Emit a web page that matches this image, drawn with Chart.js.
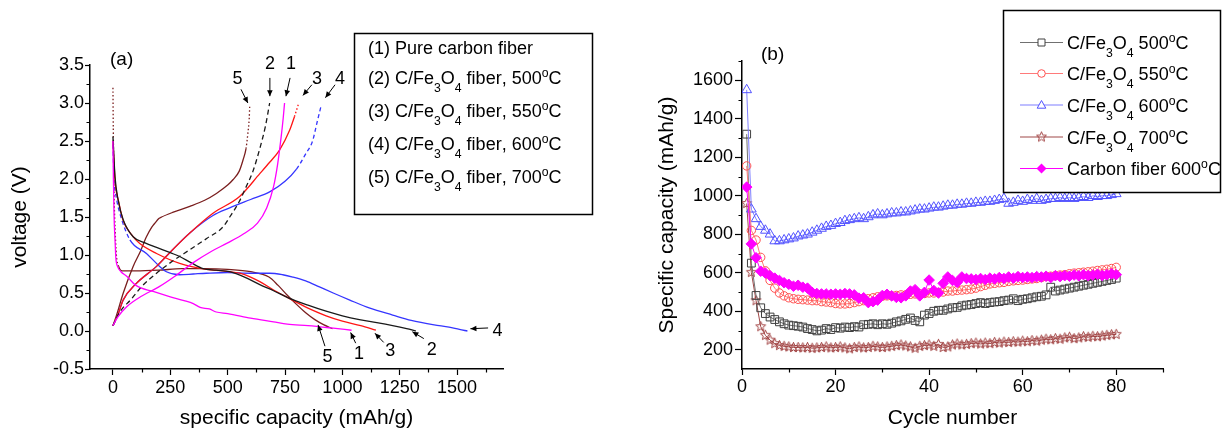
<!DOCTYPE html>
<html>
<head>
<meta charset="utf-8">
<script src="https://cdn.jsdelivr.net/npm/chart.js@4.4.1/dist/chart.umd.min.js"></script>
<style>
  html, body { margin: 0; padding: 0; background: #fff; }
  #wrap { position: relative; width: 1222px; height: 429px; }
  #chartA { position: absolute; left: 0; top: 0; }
  #chartB { position: absolute; left: 610px; top: 0; }
</style>
</head>
<body>
<div id="wrap">
  <canvas id="chartA" width="610" height="429"></canvas>
  <canvas id="chartB" width="612" height="429"></canvas>
</div>
<script>
const FONT = '"Liberation Sans", Arial, Helvetica, sans-serif';

// ---------- panel (a): voltage profiles, [capacity mAh/g, voltage V] ----------
const cfDischarge = [[0,2.5],[2,2.0],[5,1.5],[9,1.2],[13,0.95],[20,0.85],[35,0.78],[60,0.72],[100,0.6],[175,0.52],[250,0.45],[310,0.4],[350,0.36],[380,0.31],[420,0.29],[450,0.25],[500,0.23],[600,0.17],[700,0.12],[760,0.09],[850,0.07],[950,0.04],[1040,0.01]];
const cfCharge = [[0,0.07],[20,0.18],[60,0.32],[120,0.45],[200,0.58],[270,0.72],[350,0.9],[430,1.05],[500,1.16],[570,1.28],[630,1.42],[670,1.62],[700,1.9],[718,2.2],[733,2.55],[742,2.8],[748,3.0]];

const f500Discharge = [[0,2.56],[9,2.03],[23,1.72],[45,1.46],[88,1.24],[140,1.16],[190,1.1],[250,1.03],[291,0.98],[340,0.9],[393,0.82],[450,0.8],[509,0.78],[581,0.7],[640,0.61],[700,0.53],[762,0.44],[850,0.34],[929,0.26],[1000,0.2],[1074,0.15],[1150,0.11],[1219,0.07],[1280,0.03],[1320,0.0]];
const f500Charge = [[0,0.07],[30,0.25],[80,0.42],[130,0.6],[190,0.76],[260,0.92],[335,1.07],[410,1.22],[480,1.37],[509,1.5],[550,1.7],[581,1.9],[610,2.1],[640,2.4],[665,2.7],[683,3.0]];

const f550Discharge = [[0,2.5],[10,1.95],[25,1.7],[45,1.45],[80,1.27],[117,1.15],[190,1.02],[291,0.89],[407,0.81],[480,0.79],[552,0.76],[600,0.71],[640,0.65],[700,0.54],[762,0.44],[850,0.3],[929,0.2],[1000,0.13],[1080,0.07],[1146,0.01]];
const f550Charge = [[0,0.07],[20,0.2],[45,0.41],[100,0.62],[190,0.85],[260,1.07],[335,1.29],[436,1.55],[552,1.77],[640,2.07],[683,2.22],[726,2.38],[770,2.64],[791,2.82],[810,3.0]];

const f600Discharge = [[0,2.45],[5,2.0],[15,1.75],[30,1.55],[74,1.2],[146,1.02],[200,0.86],[233,0.78],[291,0.74],[350,0.75],[407,0.76],[500,0.77],[600,0.76],[683,0.76],[740,0.74],[784,0.71],[840,0.66],[900,0.58],[960,0.5],[1030,0.41],[1120,0.3],[1219,0.21],[1300,0.14],[1400,0.08],[1465,0.05],[1510,0.02],[1545,0.0]];
const f600Charge = [[0,0.07],[20,0.2],[45,0.41],[100,0.62],[190,0.85],[260,1.07],[335,1.29],[436,1.52],[509,1.62],[600,1.73],[683,1.83],[750,1.97],[800,2.13],[840,2.33],[870,2.5],[890,2.75],[907,2.96]];

const f700Discharge = [[0,3.2],[2,2.5],[5,1.8],[10,1.3],[15,1.0],[25,0.85],[40,0.79],[100,0.79],[200,0.8],[300,0.82],[400,0.82],[500,0.81],[600,0.78],[680,0.71],[720,0.6],[760,0.47],[800,0.35],[840,0.24],[880,0.15],[920,0.08],[957,0.03]];
const f700Charge = [[0,0.07],[15,0.2],[45,0.5],[88,0.85],[120,1.05],[146,1.24],[170,1.37],[183,1.42],[200,1.48],[212,1.5],[260,1.56],[335,1.64],[400,1.72],[451,1.81],[500,1.92],[523,1.99],[550,2.1],[567,2.25],[580,2.4],[588,2.6],[594,2.8],[596,2.95]];

const aTicksX = [0, 250, 500, 750, 1000, 1250, 1500];
const aMinorX = [125, 375, 625, 875, 1125, 1375, 1625];
const aTicksY = [-0.5, 0, 0.5, 1, 1.5, 2, 2.5, 3, 3.5];
const aMinorY = [-0.25, 0.25, 0.75, 1.25, 1.75, 2.25, 2.75, 3.25];

const legendA = [
  '(1) Pure carbon fiber',
  '(2) C/Fe_3O_4 fiber, 500^oC',
  '(3) C/Fe_3O_4 fiber, 550^oC',
  '(4) C/Fe_3O_4 fiber, 600^oC',
  '(5) C/Fe_3O_4 fiber, 700^oC'
];

// curve number tags with arrows (data coordinates)
const tagsA = [
  {t: '5', at: [543, 3.32], from: [558, 3.18], to: [588, 3.0]},
  {t: '2', at: [684, 3.51], from: [684, 3.33], to: [684, 3.09]},
  {t: '1', at: [776, 3.51], from: [772, 3.33], to: [754, 3.09]},
  {t: '3', at: [889, 3.32], from: [867, 3.24], to: [828, 3.1]},
  {t: '4', at: [990, 3.32], from: [968, 3.24], to: [926, 3.07]},
  {t: '5', at: [935, -0.34], from: [924, -0.2], to: [894, 0.08]},
  {t: '1', at: [1072, -0.3], from: [1058, -0.16], to: [1036, -0.02]},
  {t: '3', at: [1209, -0.27], from: [1180, -0.15], to: [1142, -0.03]},
  {t: '2', at: [1389, -0.25], from: [1355, -0.1], to: [1305, -0.01]},
  {t: '4', at: [1676, 0.0], from: [1635, 0.04], to: [1558, 0.03]}
];

// ---------- panel (b): cycling performance ----------
const cycles = Array.from({length: 80}, (_, i) => i + 1);
const cap500 = [1320,650,482,418,388,370,357,345,335,328, 325,322,318,310,305,298,302,310,305,315,
  312,318,315,320,318,330,332,335,330,335, 332,338,345,350,358,365,352,345,380,388,
  400,405,405,412,418,420,428,432,435,440, 445,440,445,448,450,455,458,465,455,462,
  465,470,475,478,485,525,505,510,515,520, 525,530,535,540,545,550,555,560,565,572];
const cap550 = [1155,820,770,680,610,560,520,495,480,470, 465,462,460,458,455,455,450,448,445,440,
  438,438,440,445,450,455,465,470,475,478, 480,480,482,485,485,488,490,490,492,495,
  495,498,500,505,505,508,510,512,515,520, 528,535,542,545,548,550,555,558,560,562,
  565,568,570,575,580,582,585,588,590,595, 598,600,603,605,608,612,615,618,622,628];
const cap600 = [1550,930,880,840,820,800,765,765,770,775, 780,790,795,800,810,820,830,840,845,855,
  860,870,875,880,885,880,890,900,905,900, 905,910,910,915,915,920,925,930,930,935,
  940,940,945,950,950,955,955,960,960,965, 965,970,970,975,980,985,960,965,975,970,
  980,975,985,975,980,985,985,990,985,990, 985,990,995,990,1000,995,1000,1000,1005,1010];
const cap700 = [960,602,455,320,275,250,232,222,218,215, 212,212,210,212,208,210,212,215,210,212,
  215,210,205,212,215,210,212,218,215,212, 215,218,222,225,220,215,208,218,222,225,
  218,228,212,215,225,230,225,228,232,235, 230,235,232,238,235,240,238,242,240,245,
  242,248,245,250,255,252,258,255,262,265, 258,262,268,265,270,268,272,275,278,280];
const capCF = [1045,750,678,608,598,585,572,560,548,540, 530,535,525,520,498,492,490,490,488,490,
  488,492,490,485,468,470,445,450,458,482, 488,480,472,470,480,505,512,480,498,562,
  508,495,545,578,560,550,578,570,568,565, 570,565,572,568,575,570,578,572,580,575,
  578,575,580,578,582,575,585,580,585,582, 588,584,590,585,588,592,586,590,594,590];

const bTicksX = [0, 20, 40, 60, 80];
const bMinorX = [10, 30, 50, 70, 90];
const bTicksY = [200, 400, 600, 800, 1000, 1200, 1400, 1600];
const bMinorY = [300, 500, 700, 900, 1100, 1300, 1500, 1700];

const legendB = ['C/Fe_3O_4 500^oC', 'C/Fe_3O_4 550^oC', 'C/Fe_3O_4 600^oC', 'C/Fe_3O_4 700^oC', 'Carbon fiber 600^oC'];

// ---------- helpers ----------
function drawRich(ctx, str, x, y, size) {
  let cx = x, i = 0;
  ctx.textBaseline = 'alphabetic';
  ctx.textAlign = 'left';
  while (i < str.length) {
    let ch = str[i], mode = 0;
    if ((ch === '_' || ch === '^') && i + 1 < str.length) {
      mode = ch === '_' ? 1 : 2;
      ch = str[i + 1];
      i += 2;
    } else {
      i += 1;
    }
    const fs = mode ? size * 0.68 : size;
    ctx.font = fs + 'px ' + FONT;
    const dy = mode === 1 ? size * 0.45 : mode === 2 ? -size * 0.37 : 0;
    ctx.fillText(ch, cx, y + dy);
    cx += ctx.measureText(ch).width;
  }
}

function arrow(ctx, x1, y1, x2, y2) {
  ctx.beginPath();
  ctx.moveTo(x1, y1);
  ctx.lineTo(x2, y2);
  ctx.stroke();
  const a = Math.atan2(y2 - y1, x2 - x1), L = 6, W = 2.8;
  ctx.beginPath();
  ctx.moveTo(x2, y2);
  ctx.lineTo(x2 - L * Math.cos(a) + W * Math.sin(a), y2 - L * Math.sin(a) - W * Math.cos(a));
  ctx.lineTo(x2 - L * Math.cos(a) - W * Math.sin(a), y2 - L * Math.sin(a) + W * Math.cos(a));
  ctx.closePath();
  ctx.fill();
}

function drawMinor(ctx, chart, minorX, minorY, len) {
  const {x, y} = chart.scales;
  const area = chart.chartArea;
  ctx.strokeStyle = '#000';
  ctx.lineWidth = 1.2;
  ctx.beginPath();
  minorX.forEach(v => {
    const px = Math.round(x.getPixelForValue(v)) + 0.5;
    ctx.moveTo(px, area.bottom);
    ctx.lineTo(px, area.bottom + len);
  });
  minorY.forEach(v => {
    const py = Math.round(y.getPixelForValue(v)) + 0.5;
    ctx.moveTo(area.left, py);
    ctx.lineTo(area.left - len, py);
  });
  ctx.stroke();
}

function starCanvas(color, r) {
  const c = document.createElement('canvas');
  const s = Math.ceil(2 * r + 4);
  c.width = s; c.height = s;
  const g = c.getContext('2d');
  g.strokeStyle = color;
  g.lineWidth = 1;
  g.beginPath();
  for (let i = 0; i < 10; i++) {
    const rad = i % 2 ? r * 0.45 : r;
    const a = -Math.PI / 2 + i * Math.PI / 5;
    g.lineTo(s / 2 + rad * Math.cos(a), s / 2 + rad * Math.sin(a));
  }
  g.closePath();
  g.stroke();
  return c;
}

function axisCommon(tickLen) {
  return {
    grid: {drawOnChartArea: false, drawTicks: true, tickLength: tickLen, tickColor: '#000', tickWidth: 1.2},
    border: {display: true, color: '#000', width: 1.5}
  };
}

// ---------- chart (a) ----------
const toXY = arr => arr.map(p => ({x: p[0], y: p[1]}));
function curve(pts, color, opts) {
  return Object.assign({
    data: toXY(pts), borderColor: color, borderWidth: 1.3, pointRadius: 0,
    showLine: true, fill: false, cubicInterpolationMode: 'monotone'
  }, opts || {});
}
const DOT = [1.5, 2.2], DASH = [5, 3.5];

const pluginA = {
  id: 'decorA',
  afterDraw(chart) {
    const ctx = chart.ctx;
    const {x, y} = chart.scales;
    ctx.save();
    drawMinor(ctx, chart, aMinorX, aMinorY, 3.5);

    ctx.fillStyle = '#000';
    ctx.strokeStyle = '#000';
    ctx.lineWidth = 1;
    ctx.font = '18px ' + FONT;
    ctx.textAlign = 'center';
    ctx.textBaseline = 'middle';
    tagsA.forEach(g => {
      ctx.fillText(g.t, x.getPixelForValue(g.at[0]), y.getPixelForValue(g.at[1]));
      arrow(ctx, x.getPixelForValue(g.from[0]), y.getPixelForValue(g.from[1]),
                 x.getPixelForValue(g.to[0]), y.getPixelForValue(g.to[1]));
    });

    ctx.font = '19px ' + FONT;
    ctx.textAlign = 'left';
    ctx.fillText('(a)', 110, 60);

    ctx.lineWidth = 1.5;
    ctx.strokeRect(354.5, 33.5, 238, 181);
    const rowsY = [54, 84, 117, 150, 183];
    legendA.forEach((s, i) => drawRich(ctx, s, 368, rowsY[i], 18));
    ctx.restore();
  }
};

new Chart(document.getElementById('chartA'), {
  type: 'scatter',
  data: {
    datasets: [
      curve(cfDischarge, '#ff00ff'),
      curve(cfCharge, '#ff00ff'),
      curve(f500Discharge, '#1a1a1a'),
      curve(f500Charge, '#1a1a1a', {borderDash: DASH}),
      curve(f550Discharge, '#ff1414'),
      curve(f550Charge, '#ff1414', {segment: {borderDash: c => c.p0.parsed.y >= 2.75 ? DOT : undefined}}),
      curve(f600Discharge, '#3535ff', {segment: {borderDash: c => c.p0.parsed.x < 60 ? [4, 3] : undefined}}),
      curve(f600Charge, '#3535ff', {segment: {borderDash: c => c.p0.parsed.y >= 2.0 ? [4, 3] : undefined}}),
      curve(f700Discharge, '#7a1e1e', {segment: {borderDash: c => c.p0.parsed.x < 20 ? DOT : undefined}}),
      curve(f700Charge, '#7a1e1e', {segment: {borderDash: c => c.p0.parsed.y >= 2.3 ? DOT : undefined}})
    ]
  },
  options: {
    responsive: false,
    animation: false,
    devicePixelRatio: 1,
    events: [],
    layout: {padding: {top: 65, right: 107, left: 0, bottom: 0}},
    plugins: {legend: {display: false}, tooltip: {enabled: false}},
    scales: {
      x: Object.assign(axisCommon(6), {
        type: 'linear', min: -100, max: 1700,
        afterFit: s => { s.height = 60; },
        afterBuildTicks: s => { s.ticks = aTicksX.map(v => ({value: v})); },
        ticks: {font: {family: FONT, size: 18}, color: '#000', padding: 2, maxRotation: 0, autoSkip: false,
                callback: v => String(v)},
        title: {display: true, text: 'specific capacity (mAh/g)', color: '#000',
                font: {family: FONT, size: 21, lineHeight: 1}, padding: {top: 0, bottom: 0}}
      }),
      y: Object.assign(axisCommon(5), {
        type: 'linear', min: -0.5, max: 3.5,
        afterFit: s => { s.width = 90; },
        afterBuildTicks: s => { s.ticks = aTicksY.map(v => ({value: v})); },
        ticks: {font: {family: FONT, size: 18}, color: '#000', padding: 1, callback: v => v.toFixed(1)},
        title: {display: true, text: 'voltage (V)', color: '#000',
                font: {family: FONT, size: 21, lineHeight: 1}, padding: {top: 10, bottom: 0}}
      })
    }
  },
  plugins: [pluginA]
});

// ---------- chart (b) ----------
const starImg = starCanvas('#a04040', 5.2);
function seriesB(label, values, lineColor, pt, order) {
  return Object.assign({
    label: label,
    data: values.map((v, i) => ({x: cycles[i], y: v})),
    showLine: true, borderColor: lineColor, borderWidth: 1, order: order,
    pointBorderWidth: 1, pointBackgroundColor: 'rgba(255,255,255,0)'
  }, pt);
}

const markerB = [
  {shape: 'rect', color: '#404040', line: '#707070'},
  {shape: 'circle', color: '#ff5050', line: '#ff7a7a'},
  {shape: 'triangle', color: '#5252ff', line: '#7f7fff'},
  {shape: 'star', color: '#a04040', line: '#a04848'},
  {shape: 'diamond', color: '#ff00ff', line: '#ff00ff'}
];

function legendMarker(ctx, m, cx, cy) {
  ctx.strokeStyle = m.color;
  ctx.fillStyle = m.color;
  ctx.lineWidth = 1;
  ctx.beginPath();
  if (m.shape === 'rect') {
    ctx.fillStyle = '#fff';
    ctx.rect(cx - 3.5, cy - 3.5, 7, 7); ctx.fill(); ctx.stroke();
  } else if (m.shape === 'circle') {
    ctx.fillStyle = '#fff';
    ctx.arc(cx, cy, 3.8, 0, Math.PI * 2); ctx.fill(); ctx.stroke();
  } else if (m.shape === 'triangle') {
    ctx.fillStyle = '#fff';
    ctx.moveTo(cx, cy - 4.5); ctx.lineTo(cx + 4.3, cy + 3.2); ctx.lineTo(cx - 4.3, cy + 3.2); ctx.closePath();
    ctx.fill(); ctx.stroke();
  } else if (m.shape === 'star') {
    ctx.drawImage(starImg, cx - starImg.width / 2, cy - starImg.height / 2);
  } else {
    ctx.moveTo(cx, cy - 5); ctx.lineTo(cx + 5, cy); ctx.lineTo(cx, cy + 5); ctx.lineTo(cx - 5, cy); ctx.closePath();
    ctx.fill();
  }
}

const pluginB = {
  id: 'decorB',
  afterDraw(chart) {
    const ctx = chart.ctx;
    ctx.save();
    drawMinor(ctx, chart, bMinorX, bMinorY, 3.5);

    ctx.fillStyle = '#000';
    ctx.font = '19px ' + FONT;
    ctx.textAlign = 'left';
    ctx.textBaseline = 'middle';
    ctx.fillText('(b)', 151, 55);

    ctx.strokeStyle = '#000';
    ctx.lineWidth = 1.5;
    ctx.fillStyle = '#fff';
    ctx.fillRect(393.5, 10.5, 217, 182);
    ctx.strokeRect(393.5, 10.5, 217, 182);
    const rowsY = [49, 80, 111.5, 143.5, 175];
    legendB.forEach((s, i) => {
      const m = markerB[i];
      const cy = rowsY[i] - 6.5;
      ctx.strokeStyle = m.line;
      ctx.lineWidth = 1.2;
      ctx.beginPath();
      ctx.moveTo(410, cy); ctx.lineTo(453, cy);
      ctx.stroke();
      legendMarker(ctx, m, 431.5, cy);
      ctx.fillStyle = '#000';
      drawRich(ctx, s, 457, rowsY[i], 18);
    });
    ctx.restore();
  }
};

new Chart(document.getElementById('chartB'), {
  type: 'scatter',
  data: {
    datasets: [
      seriesB('C/Fe3O4 500°C', cap500, markerB[0].line, {pointStyle: 'rect', pointRadius: 5.5, pointBorderColor: markerB[0].color}, 4),
      seriesB('C/Fe3O4 550°C', cap550, markerB[1].line, {pointStyle: 'circle', pointRadius: 4.2, pointBorderColor: markerB[1].color}, 2),
      seriesB('C/Fe3O4 600°C', cap600, markerB[2].line, {pointStyle: 'triangle', pointRadius: 5.6, pointBorderColor: markerB[2].color}, 3),
      seriesB('C/Fe3O4 700°C', cap700, markerB[3].line, {pointStyle: starImg, pointRadius: 5, pointBorderColor: markerB[3].color}, 5),
      seriesB('Carbon fiber 600°C', capCF, markerB[4].line, {pointStyle: 'rectRot', pointRadius: 5.3,
        pointBorderColor: markerB[4].color, pointBackgroundColor: markerB[4].color}, 1)
    ]
  },
  options: {
    responsive: false,
    animation: false,
    devicePixelRatio: 1,
    events: [],
    layout: {padding: {top: 61, right: 59, left: 0, bottom: 0}},
    plugins: {legend: {display: false}, tooltip: {enabled: false}},
    scales: {
      x: Object.assign(axisCommon(6), {
        type: 'linear', min: 0, max: 90,
        afterFit: s => { s.height = 60; },
        afterBuildTicks: s => { s.ticks = bTicksX.map(v => ({value: v})); },
        ticks: {font: {family: FONT, size: 18}, color: '#000', padding: 1, maxRotation: 0, autoSkip: false,
                callback: v => String(v)},
        title: {display: true, text: 'Cycle number', color: '#000',
                font: {family: FONT, size: 21, lineHeight: 1}, padding: {top: 0, bottom: 0}}
      }),
      y: Object.assign(axisCommon(7), {
        type: 'linear', min: 100, max: 1700,
        afterFit: s => { s.width = 132; },
        afterBuildTicks: s => { s.ticks = bTicksY.map(v => ({value: v})); },
        ticks: {font: {family: FONT, size: 18}, color: '#000', padding: 2, callback: v => String(v)},
        title: {display: true, text: 'Specific capacity (mAh/g)', color: '#000',
                font: {family: FONT, size: 21, lineHeight: 1}, padding: {top: 47, bottom: 0}}
      })
    }
  },
  plugins: [pluginB]
});
</script>
</body>
</html>
